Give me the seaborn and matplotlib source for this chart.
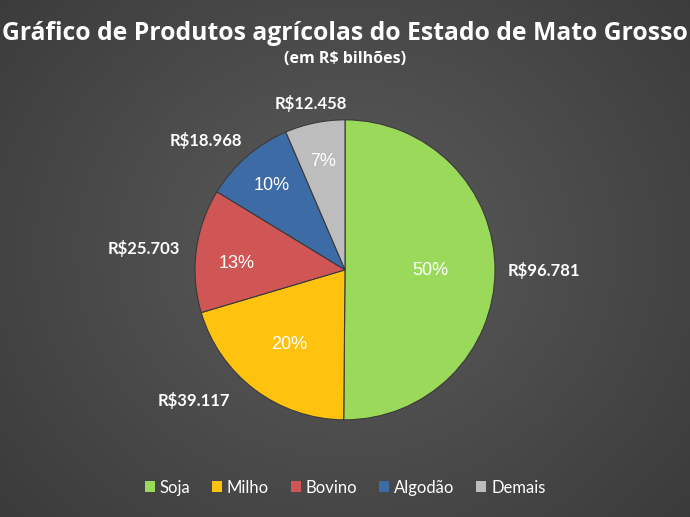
import numpy as np
import matplotlib
matplotlib.use("Agg")
import matplotlib.pyplot as plt
import seaborn as sns
from matplotlib.patches import Patch

categories = ["Soja", "Milho", "Bovino", "Algodão", "Demais"]
values = [96.781, 39.117, 25.703, 18.968, 12.458]
value_labels = ["R$96.781", "R$39.117", "R$25.703", "R$18.968", "R$12.458"]
pct_labels = ["50%", "20%", "13%", "10%", "7%"]
colors = ["#9BD95B", "#FFC20E", "#CF5654", "#3D6BA6", "#BDBDBD"]

# label placement (style)
pct_dist = [0.57, 0.62, 0.73, 0.745, 0.735]
pct_dy = [0.0, 0.0, -0.05, 0.0, 0.0]
val_dist = [1.087, 1.09, 1.11, 1.09, 1.13]
val_dx = [0.0, -0.11, 0.0, 0.03, 0.0]
val_dy = [0.0, 0.0, 0.0, 0.04, 0.0]
val_ha = ["left", "right", "right", "right", "center"]

sns.set_theme(style="dark")
plt.rcParams['font.family'] = ['Lato', 'DejaVu Sans']

fig = plt.figure(figsize=(6.9, 5.17), dpi=100)

# background gradient
bg = fig.add_axes([0, 0, 1, 1])
yy, xx = np.mgrid[0:517, 0:690]
d = np.sqrt(((xx - 345) / 420.0) ** 2 + ((yy - 250) / 380.0) ** 2)
g = np.clip(0.36 - 0.12 * d, 0, 1)
bg.imshow(np.dstack([g, g, g]), aspect="auto", extent=[0, 1, 0, 1])
bg.set_axis_off()

ax = fig.add_axes([0.5 - 0.2174, 0.478 - 0.2901, 0.4348, 0.5803])
wedges, texts, autotexts = ax.pie(
    values, labels=value_labels, colors=colors, startangle=90, counterclock=False,
    autopct=lambda p: "", pctdistance=0.6, labeldistance=1.09,
    wedgeprops=dict(edgecolor="#3a3a3a", linewidth=0.8),
    textprops=dict(color="white", fontsize=12, fontweight="bold"))
for i, (w, t, at) in enumerate(zip(wedges, texts, autotexts)):
    mid = np.deg2rad((w.theta1 + w.theta2) / 2.0)
    c, s = np.cos(mid), np.sin(mid)
    at.set_text(pct_labels[i])
    at.set_position((pct_dist[i] * c, pct_dist[i] * s + pct_dy[i]))
    at.set_color("white")
    at.set_fontsize(13)
    at.set_fontweight("normal")
    at.set_fontfamily(["Liberation Sans", "DejaVu Sans"])
    t.set_position((val_dist[i] * c + val_dx[i], val_dist[i] * s + val_dy[i]))
    t.set_ha(val_ha[i])
    t.set_va("center")
ax.set_xlim(-1, 1)
ax.set_ylim(-1, 1)
ax.set_aspect("equal")
ax.set_axis_off()

fig.text(0.5, 0.936, "Gráfico de Produtos agrícolas do Estado de Mato Grosso",
         ha="center", va="center", color="white", fontsize=17.8, fontweight="bold",
         family=["Open Sans", "DejaVu Sans"])
fig.text(0.5, 0.886, "(em R$ bilhões)", ha="center", va="center",
         color="white", fontsize=11.5, fontweight="bold",
         family=["Open Sans", "DejaVu Sans"])

handles = [Patch(facecolor=c, edgecolor="none") for c in colors]
leg = fig.legend(handles, categories, loc="center", bbox_to_anchor=(0.5, 0.057),
                 ncol=5, frameon=False, handlelength=0.6, handleheight=0.6,
                 handletextpad=0.3, columnspacing=1.3, fontsize=12)
for t in leg.get_texts():
    t.set_color("white")

fig.savefig("out.png", dpi=100)
